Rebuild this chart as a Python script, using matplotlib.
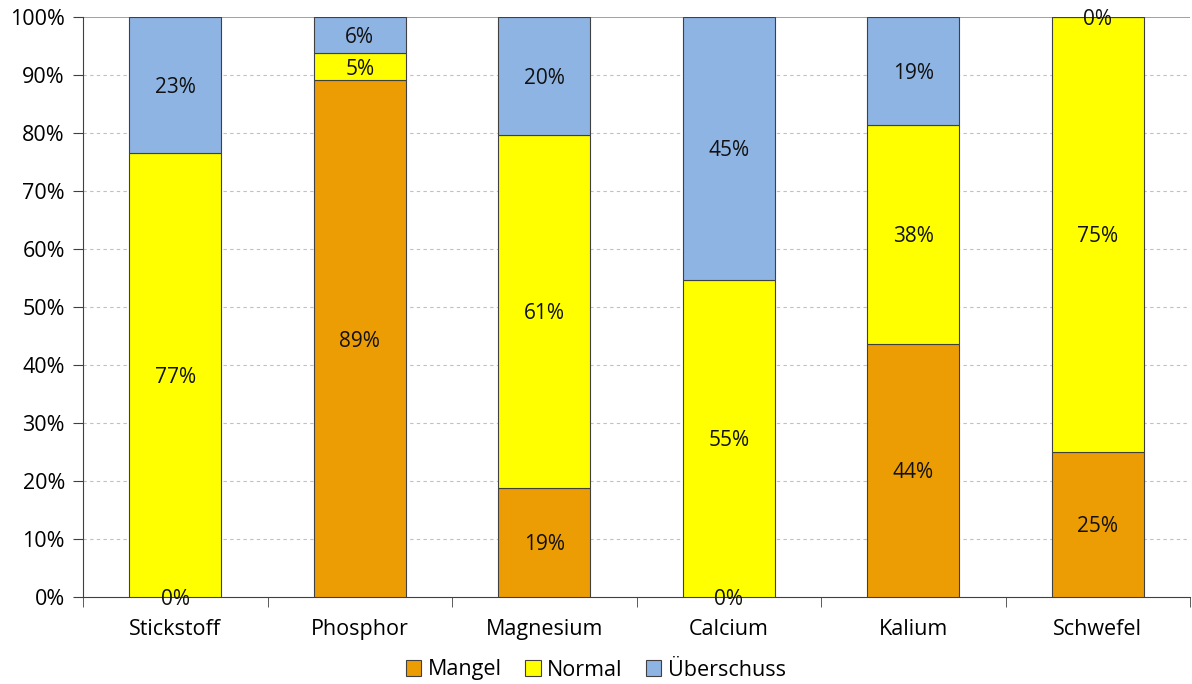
import numpy as np
import matplotlib.pyplot as plt
from matplotlib.patches import Patch

plt.rcParams['font.family'] = ['Open Sans', 'DejaVu Sans']

categories = ['Stickstoff', 'Phosphor', 'Magnesium', 'Calcium', 'Kalium', 'Schwefel']
mangel = [0.0, 89.1, 18.8, 0.0, 43.7, 25.0]
normal = [76.6, 4.7, 60.9, 54.7, 37.6, 75.0]
ueberschuss = [23.4, 6.2, 20.3, 45.3, 18.7, 0.0]
series_names = ['Mangel', 'Normal', 'Überschuss']
colors = ['#EC9D04', '#FFFF00', '#8EB4E3']

fig = plt.figure(figsize=(11.92, 6.84), dpi=100)
ax = fig.add_axes([83/1192, 87/684, 1107/1192, 580/684])

x = np.arange(len(categories))
bottom = np.zeros(len(categories))
for vals, name, c in zip([mangel, normal, ueberschuss], series_names, colors):
    vals = np.array(vals)
    ax.bar(x, vals, 0.5, bottom=bottom, color=c, edgecolor='#404040',
           linewidth=0.8, label=name, zorder=3)
    for xi, b, v in zip(x, bottom, vals):
        ax.text(xi, b + v / 2, f'{v:.0f}%', ha='center', va='center_baseline',
                fontsize=15, color='#111111', zorder=4)
    bottom += vals

ax.set_xlim(-0.5, len(categories) - 0.5)
ax.set_ylim(0, 100)
ax.set_yticks(np.arange(0, 101, 10))
ax.set_yticklabels([f'{v}%' for v in range(0, 101, 10)], fontsize=15.5)
ax.set_xticks(x)
ax.set_xticklabels(categories, fontsize=15.5)
ax.tick_params(axis='x', length=0, pad=16)
ax.set_xticks(np.arange(-0.5, len(categories)), minor=True)
ax.tick_params(axis='x', which='minor', length=7, color='#404040', direction='out')
ax.tick_params(axis='y', length=7, color='#404040', pad=6)

for y in range(10, 100, 10):
    ax.axhline(y, color='#C0C0C0', lw=0.8, ls=(0, (3, 3)), zorder=1)
ax.axhline(100, color='#909090', lw=1.2, zorder=1)

for s in ['top', 'right']:
    ax.spines[s].set_visible(False)
ax.spines['left'].set_color('#404040')
ax.spines['bottom'].set_color('#404040')

handles = [Patch(facecolor=c, edgecolor='#404040', linewidth=0.8) for c in colors]
fig.legend(handles, series_names, loc='center', bbox_to_anchor=(0.5, 14/684),
           ncol=3, frameon=False, fontsize=15.5, handlelength=0.7, handleheight=0.7,
           handletextpad=0.3, columnspacing=1.1)

fig.savefig('out.png', dpi=100)
